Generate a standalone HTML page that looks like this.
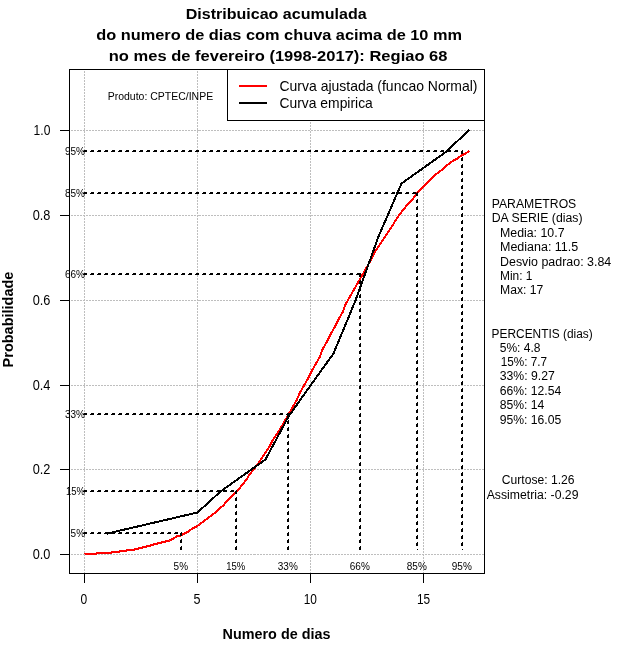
<!DOCTYPE html>
<html><head><meta charset="utf-8"><title>Distribuicao acumulada</title>
<style>html,body{margin:0;padding:0;background:#fff;}svg{display:block;}text{font-family:"Liberation Sans",sans-serif;fill:#000;}.b{font-weight:bold;}</style></head><body>
<svg width="640" height="660" viewBox="0 0 640 660">
<rect x="0" y="0" width="640" height="660" fill="#ffffff"/>
<g stroke="#bebebe" stroke-width="1" stroke-dasharray="2 1" shape-rendering="crispEdges" fill="none">
<line x1="84.5" y1="70.5" x2="84.5" y2="573.5"/>
<line x1="197.5" y1="70.5" x2="197.5" y2="573.5"/>
<line x1="310.5" y1="70.5" x2="310.5" y2="573.5"/>
<line x1="423.5" y1="70.5" x2="423.5" y2="573.5"/>
<line x1="70.5" y1="554.5" x2="484.5" y2="554.5"/>
<line x1="70.5" y1="469.5" x2="484.5" y2="469.5"/>
<line x1="70.5" y1="385.5" x2="484.5" y2="385.5"/>
<line x1="70.5" y1="300.5" x2="484.5" y2="300.5"/>
<line x1="70.5" y1="215.5" x2="484.5" y2="215.5"/>
<line x1="70.5" y1="130.5" x2="484.5" y2="130.5"/>
</g>
<polyline points="84.5,553.5 88.5,553.5 92.5,553.5 96.5,553.5 100.5,552.5 103.5,552.5 107.5,552.5 111.5,552.5 115.5,551.5 119.5,551.5 123.5,550.5 126.5,550.5 130.5,549.5 134.5,549.5 138.5,548.5 142.5,547.5 146.5,546.5 150.5,545.5 153.5,544.5 157.5,543.5 161.5,542.5 165.5,541.5 169.5,540.5 173.5,538.5 176.5,536.5 180.5,535.5 184.5,533.5 188.5,531.5 192.5,528.5 196.5,526.5 199.5,524.5 203.5,521.5 207.5,518.5 211.5,515.5 215.5,512.5 219.5,508.5 223.5,505.5 226.5,501.5 230.5,497.5 234.5,493.5 238.5,489.5 242.5,484.5 246.5,479.5 249.5,474.5 253.5,469.5 257.5,464.5 261.5,458.5 265.5,452.5 269.5,446.5 272.5,440.5 276.5,434.5 280.5,428.5 284.5,421.5 288.5,414.5 292.5,407.5 296.5,400.5 299.5,393.5 303.5,386.5 307.5,379.5 311.5,371.5 315.5,364.5 319.5,357.5 322.5,349.5 326.5,342.5 330.5,334.5 334.5,327.5 338.5,319.5 342.5,312.5 345.5,304.5 349.5,297.5 353.5,290.5 357.5,283.5 361.5,276.5 365.5,269.5 369.5,262.5 372.5,256.5 376.5,249.5 380.5,243.5 384.5,237.5 388.5,231.5 392.5,225.5 395.5,220.5 399.5,214.5 403.5,209.5 407.5,204.5 411.5,200.5 415.5,195.5 418.5,191.5 422.5,187.5 426.5,183.5 430.5,179.5 434.5,175.5 438.5,172.5 442.5,169.5 445.5,166.5 449.5,163.5 453.5,160.5 457.5,158.5 461.5,155.5 465.5,153.5 468.5,151.5" fill="none" stroke="#ff0000" stroke-width="2" shape-rendering="crispEdges" stroke-linejoin="round" stroke-linecap="round"/>
<polyline points="84.5,553.5 88.5,553.5 92.5,553.5 96.5,553.5 100.5,552.5 103.5,552.5 107.5,552.5 111.5,552.5 115.5,551.5 119.5,551.5 123.5,550.5 126.5,550.5 130.5,549.5 134.5,549.5 138.5,548.5 142.5,547.5 146.5,546.5 150.5,545.5 153.5,544.5 157.5,543.5 161.5,542.5 165.5,541.5 169.5,540.5 173.5,538.5 176.5,536.5 180.5,535.5 184.5,533.5 188.5,531.5 192.5,528.5 196.5,526.5 199.5,524.5 203.5,521.5 207.5,518.5 211.5,515.5 215.5,512.5 219.5,508.5 223.5,505.5 226.5,501.5 230.5,497.5 234.5,493.5 238.5,489.5 242.5,484.5 246.5,479.5 249.5,474.5 253.5,469.5 257.5,464.5 261.5,458.5 265.5,452.5 269.5,446.5 272.5,440.5 276.5,434.5 280.5,428.5 284.5,421.5 288.5,414.5 292.5,407.5 296.5,400.5 299.5,393.5 303.5,386.5 307.5,379.5 311.5,371.5 315.5,364.5 319.5,357.5 322.5,349.5 326.5,342.5 330.5,334.5 334.5,327.5 338.5,319.5 342.5,312.5 345.5,304.5 349.5,297.5 353.5,290.5 357.5,283.5 361.5,276.5 365.5,269.5 369.5,262.5 372.5,256.5 376.5,249.5 380.5,243.5 384.5,237.5 388.5,231.5 392.5,225.5 395.5,220.5 399.5,214.5 403.5,209.5 407.5,204.5 411.5,200.5 415.5,195.5 418.5,191.5 422.5,187.5 426.5,183.5 430.5,179.5 434.5,175.5 438.5,172.5 442.5,169.5 445.5,166.5 449.5,163.5 453.5,160.5 457.5,158.5 461.5,155.5 465.5,153.5 468.5,151.5" fill="none" stroke="#ff0000" stroke-width="1" stroke-linejoin="round" stroke-linecap="round"/>
<polyline points="107.5,533.5 197.5,512.5 220.5,491.5 265.5,459.5 288.5,416.5 310.5,385.5 333.5,353.5 355.5,300.5 378.5,236.5 401.5,183.5 446.5,151.5 468.5,130.5" fill="none" stroke="#000" stroke-width="2" shape-rendering="crispEdges" stroke-linejoin="round" stroke-linecap="round"/>
<g stroke="#000" stroke-width="1" shape-rendering="crispEdges" fill="none">
<line x1="83" y1="533.5" x2="182" y2="533.5" stroke-dasharray="4 3"/>
<line x1="84" y1="532.5" x2="182" y2="532.5" stroke-dasharray="3 4"/>
<line x1="181.5" y1="532" x2="181.5" y2="550" stroke-dasharray="4 3"/>
<line x1="180.5" y1="533" x2="180.5" y2="550" stroke-dasharray="3 4"/>
<line x1="83" y1="491.5" x2="237" y2="491.5" stroke-dasharray="4 3"/>
<line x1="84" y1="490.5" x2="237" y2="490.5" stroke-dasharray="3 4"/>
<line x1="236.5" y1="490" x2="236.5" y2="550" stroke-dasharray="4 3"/>
<line x1="235.5" y1="491" x2="235.5" y2="550" stroke-dasharray="3 4"/>
<line x1="83" y1="414.5" x2="289" y2="414.5" stroke-dasharray="4 3"/>
<line x1="84" y1="413.5" x2="289" y2="413.5" stroke-dasharray="3 4"/>
<line x1="288.5" y1="413" x2="288.5" y2="550" stroke-dasharray="4 3"/>
<line x1="287.5" y1="414" x2="287.5" y2="550" stroke-dasharray="3 4"/>
<line x1="83" y1="274.5" x2="361" y2="274.5" stroke-dasharray="4 3"/>
<line x1="84" y1="273.5" x2="361" y2="273.5" stroke-dasharray="3 4"/>
<line x1="360.5" y1="273" x2="360.5" y2="550" stroke-dasharray="4 3"/>
<line x1="359.5" y1="274" x2="359.5" y2="550" stroke-dasharray="3 4"/>
<line x1="83" y1="193.5" x2="418" y2="193.5" stroke-dasharray="4 3"/>
<line x1="84" y1="192.5" x2="418" y2="192.5" stroke-dasharray="3 4"/>
<line x1="417.5" y1="192" x2="417.5" y2="550" stroke-dasharray="4 3"/>
<line x1="416.5" y1="193" x2="416.5" y2="550" stroke-dasharray="3 4"/>
<line x1="83" y1="151.5" x2="463" y2="151.5" stroke-dasharray="4 3"/>
<line x1="84" y1="150.5" x2="463" y2="150.5" stroke-dasharray="3 4"/>
<line x1="462.5" y1="150" x2="462.5" y2="550" stroke-dasharray="4 3"/>
<line x1="461.5" y1="151" x2="461.5" y2="550" stroke-dasharray="3 4"/>
</g>
<rect x="69.5" y="69.5" width="415.0" height="504.0" fill="none" stroke="#000" stroke-width="1" shape-rendering="crispEdges"/>
<g stroke="#000" stroke-width="1" shape-rendering="crispEdges">
<line x1="84.5" y1="573.5" x2="84.5" y2="583.0"/>
<line x1="197.5" y1="573.5" x2="197.5" y2="583.0"/>
<line x1="310.5" y1="573.5" x2="310.5" y2="583.0"/>
<line x1="423.5" y1="573.5" x2="423.5" y2="583.0"/>
<line x1="60.0" y1="554.5" x2="69.5" y2="554.5"/>
<line x1="60.0" y1="469.5" x2="69.5" y2="469.5"/>
<line x1="60.0" y1="385.5" x2="69.5" y2="385.5"/>
<line x1="60.0" y1="300.5" x2="69.5" y2="300.5"/>
<line x1="60.0" y1="215.5" x2="69.5" y2="215.5"/>
<line x1="60.0" y1="130.5" x2="69.5" y2="130.5"/>
</g>
<text font-size="15.5" x="80.50" y="604" textLength="6.70" lengthAdjust="spacingAndGlyphs">0</text>
<text font-size="15.5" x="193.60" y="604" textLength="7.00" lengthAdjust="spacingAndGlyphs">5</text>
<text font-size="15.5" x="303.75" y="604" textLength="13.24" lengthAdjust="spacingAndGlyphs">10</text>
<text font-size="15.5" x="417.00" y="604" textLength="13.19" lengthAdjust="spacingAndGlyphs">15</text>
<text font-size="15.5" x="32.65" y="559" textLength="17.74" lengthAdjust="spacingAndGlyphs">0.0</text>
<text font-size="15.5" x="32.65" y="474" textLength="17.74" lengthAdjust="spacingAndGlyphs">0.2</text>
<text font-size="15.5" x="32.65" y="390" textLength="17.74" lengthAdjust="spacingAndGlyphs">0.4</text>
<text font-size="15.5" x="32.65" y="305" textLength="17.74" lengthAdjust="spacingAndGlyphs">0.6</text>
<text font-size="15.5" x="32.65" y="220" textLength="17.74" lengthAdjust="spacingAndGlyphs">0.8</text>
<text font-size="15.5" x="33.60" y="135" textLength="16.79" lengthAdjust="spacingAndGlyphs">1.0</text>
<text class="b" font-size="15" x="222.50" y="639" textLength="107.97" lengthAdjust="spacingAndGlyphs">Numero de dias</text>
<text class="b" font-size="15" transform="translate(13.2,367.40) rotate(-90)" textLength="95.80" lengthAdjust="spacingAndGlyphs">Probabilidade</text>
<text class="b" font-size="15" x="185.70" y="19" textLength="180.95" lengthAdjust="spacingAndGlyphs">Distribuicao acumulada</text>
<text class="b" font-size="15" x="96.25" y="40" textLength="365.78" lengthAdjust="spacingAndGlyphs">do numero de dias com chuva acima de 10 mm</text>
<text class="b" font-size="15" x="108.75" y="61" textLength="338.72" lengthAdjust="spacingAndGlyphs">no mes de fevereiro (1998-2017): Regiao 68</text>
<rect x="227.5" y="69.5" width="257.0" height="51.0" fill="#fff" stroke="#000" stroke-width="1" shape-rendering="crispEdges"/>
<line x1="239" y1="86" x2="267" y2="86" stroke="#ff0000" stroke-width="2" shape-rendering="crispEdges"/>
<line x1="239" y1="103" x2="267" y2="103" stroke="#000" stroke-width="2" shape-rendering="crispEdges"/>
<text font-size="15" x="279.50" y="91" textLength="197.98" lengthAdjust="spacingAndGlyphs">Curva ajustada (funcao Normal)</text>
<text font-size="15" x="279.50" y="108" textLength="93.29" lengthAdjust="spacingAndGlyphs">Curva empirica</text>
<text font-size="11" x="107.70" y="100" textLength="105.47" lengthAdjust="spacingAndGlyphs">Produto: CPTEC/INPE</text>
<text font-size="11" x="70.60" y="537" textLength="14.42" lengthAdjust="spacingAndGlyphs">5%</text>
<text font-size="11" x="173.60" y="570" textLength="14.42" lengthAdjust="spacingAndGlyphs">5%</text>
<text font-size="11" x="66.00" y="495" textLength="19.02" lengthAdjust="spacingAndGlyphs">15%</text>
<text font-size="11" x="226.30" y="570" textLength="19.02" lengthAdjust="spacingAndGlyphs">15%</text>
<text font-size="11" x="65.00" y="418" textLength="20.02" lengthAdjust="spacingAndGlyphs">33%</text>
<text font-size="11" x="277.80" y="570" textLength="20.02" lengthAdjust="spacingAndGlyphs">33%</text>
<text font-size="11" x="65.00" y="278" textLength="20.02" lengthAdjust="spacingAndGlyphs">66%</text>
<text font-size="11" x="349.80" y="570" textLength="20.02" lengthAdjust="spacingAndGlyphs">66%</text>
<text font-size="11" x="65.00" y="197" textLength="20.02" lengthAdjust="spacingAndGlyphs">85%</text>
<text font-size="11" x="406.80" y="570" textLength="20.02" lengthAdjust="spacingAndGlyphs">85%</text>
<text font-size="11" x="65.00" y="155" textLength="20.02" lengthAdjust="spacingAndGlyphs">95%</text>
<text font-size="11" x="451.80" y="570" textLength="20.02" lengthAdjust="spacingAndGlyphs">95%</text>
<text font-size="12.5" x="491.75" y="207.7" textLength="84.52" lengthAdjust="spacingAndGlyphs">PARAMETROS</text>
<text font-size="12.5" x="491.75" y="222" textLength="90.77" lengthAdjust="spacingAndGlyphs">DA SERIE (dias)</text>
<text font-size="12.5" x="500.00" y="236.7" textLength="64.51" lengthAdjust="spacingAndGlyphs">Media: 10.7</text>
<text font-size="12.5" x="500.00" y="250.9" textLength="78.24" lengthAdjust="spacingAndGlyphs">Mediana: 11.5</text>
<text font-size="12.5" x="500.00" y="265.6" textLength="111.25" lengthAdjust="spacingAndGlyphs">Desvio padrao: 3.84</text>
<text font-size="12.5" x="500.00" y="279.5" textLength="32.48" lengthAdjust="spacingAndGlyphs">Min: 1</text>
<text font-size="12.5" x="500.00" y="293.5" textLength="43.28" lengthAdjust="spacingAndGlyphs">Max: 17</text>
<text font-size="12.5" x="491.60" y="338" textLength="101.12" lengthAdjust="spacingAndGlyphs">PERCENTIS (dias)</text>
<text font-size="12.5" x="499.70" y="351.6" textLength="40.81" lengthAdjust="spacingAndGlyphs">5%: 4.8</text>
<text font-size="12.5" x="500.70" y="365.9" textLength="46.33" lengthAdjust="spacingAndGlyphs">15%: 7.7</text>
<text font-size="12.5" x="499.70" y="380.4" textLength="55.08" lengthAdjust="spacingAndGlyphs">33%: 9.27</text>
<text font-size="12.5" x="499.70" y="394.8" textLength="61.60" lengthAdjust="spacingAndGlyphs">66%: 12.54</text>
<text font-size="12.5" x="499.70" y="409.4" textLength="44.69" lengthAdjust="spacingAndGlyphs">85%: 14</text>
<text font-size="12.5" x="499.70" y="423.7" textLength="61.60" lengthAdjust="spacingAndGlyphs">95%: 16.05</text>
<text font-size="12.5" x="501.80" y="483.7" textLength="72.68" lengthAdjust="spacingAndGlyphs">Curtose: 1.26</text>
<text font-size="12.5" x="486.70" y="498.5" textLength="91.77" lengthAdjust="spacingAndGlyphs">Assimetria: -0.29</text>
</svg></body></html>
